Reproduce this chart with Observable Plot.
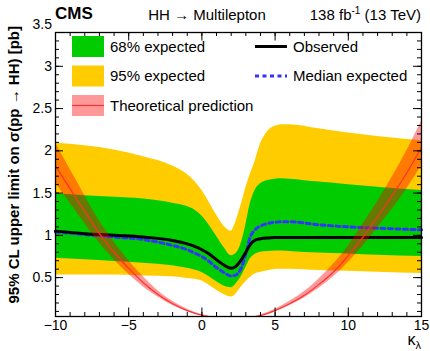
<!DOCTYPE html>
<html><head><meta charset="utf-8">
<script src="https://cdn.jsdelivr.net/npm/d3@7"></script>
<script src="https://cdn.jsdelivr.net/npm/@observablehq/plot@0.6"></script>
<style>
body{margin:0;background:#fff}
#chart{position:relative;width:430px;height:351px}
svg text{font-family:"Liberation Sans",Arial,sans-serif}
</style>
</head><body><div id="chart"></div>
<script>
// ---- data ----
const kGrid = [-10,-8,-6,-4,-2,-1,-0.5,0,0.5,1,1.5,2,2.3,2.65,3,3.3,3.6,4,4.5,5,5.5,6,8,10,12,15];
const y95hi = [2.09,2.06,2.01,1.93,1.82,1.72,1.64,1.53,1.39,1.24,1.11,1.05,1.15,1.34,1.56,1.72,1.86,2.08,2.23,2.29,2.31,2.31,2.26,2.21,2.17,2.12];
const y68hi = [1.49,1.47,1.45,1.43,1.38,1.34,1.30,1.23,1.12,0.99,0.86,0.76,0.78,0.89,1.12,1.37,1.52,1.61,1.65,1.665,1.67,1.665,1.63,1.60,1.57,1.53];
const y68lo = [0.73,0.71,0.69,0.67,0.64,0.61,0.59,0.56,0.51,0.45,0.40,0.38,0.42,0.50,0.62,0.72,0.77,0.80,0.81,0.815,0.815,0.81,0.79,0.78,0.765,0.75];
const y95lo = [0.53,0.53,0.53,0.52,0.51,0.49,0.48,0.46,0.41,0.35,0.30,0.27,0.30,0.38,0.45,0.50,0.54,0.56,0.58,0.595,0.60,0.60,0.585,0.575,0.565,0.55];
const observed = [1.05,1.02,1.00,0.98,0.94,0.90,0.87,0.83,0.78,0.71,0.65,0.61,0.63,0.70,0.80,0.89,0.94,0.96,0.97,0.975,0.975,0.975,0.975,0.975,0.975,0.975];
const median = [1.04,1.01,0.98,0.95,0.88,0.83,0.79,0.75,0.69,0.62,0.56,0.52,0.53,0.60,0.78,0.98,1.06,1.11,1.14,1.155,1.16,1.16,1.125,1.10,1.085,1.065];

const thK  = [-10,-9,-8,-7,-6,-5,-4,-3,-2,-1,0,1,2,3,4,5,6,7,8,9,10,11,12,13,14,15];
const thC  = [1.82,1.55,1.28,1.02,0.80,0.61,0.44,0.30,0.19,0.11,0.055,0.025,0.015,0.02,0.05,0.11,0.19,0.29,0.42,0.57,0.76,0.98,1.22,1.47,1.74,2.04];
const thHi = [2.09,1.78,1.47,1.17,0.92,0.70,0.51,0.345,0.22,0.127,0.063,0.029,0.017,0.023,0.058,0.127,0.22,0.335,0.485,0.66,0.875,1.13,1.40,1.69,2.00,2.35];
const thLo = [1.62,1.38,1.14,0.91,0.71,0.54,0.39,0.27,0.17,0.098,0.049,0.022,0.013,0.018,0.045,0.098,0.17,0.26,0.375,0.51,0.68,0.87,1.09,1.31,1.55,1.82];

const xMajor = [-10,-5,0,5,10,15];
const xMinor = d3.range(-10, 15.01, 1);
const yMajor = [0.5,1,1.5,2,2.5,3];
const yMinor = d3.range(0.1, 3.41, 0.1);
const yLabels = [0.5,1,1.5,2,2.5,3,3.5];

const legendLeft = [
  {label:"68% expected", kind:"green"},
  {label:"95% expected", kind:"yellow"},
  {label:"Theoretical prediction", kind:"theory"}
];
const legendRight = [
  {label:"Observed", kind:"obs"},
  {label:"Median expected", kind:"med"}
];

// ---- build ----
const W = 430, H = 351, mt = 32, mb = 35, ml = 55, mr = 9;
const fH = H - mt - mb, fW = W - ml - mr;
const rows = kGrid.map((k,i)=>({k, y95hi:y95hi[i], y68hi:y68hi[i], y68lo:y68lo[i], y95lo:y95lo[i], obs:observed[i], med:median[i]}));
const th = thK.map((k,i)=>({k, c:thC[i], hi:thHi[i], lo:thLo[i]}));

const GREEN = "#00cc00", YELLOW = "#ffcc00", BLUE = "#3333ff";
const fmt = d => (d < 0 ? "\u2212" : "") + String(Math.abs(d));

const plot = Plot.plot({
  width: W, height: H, marginTop: mt, marginBottom: mb, marginLeft: ml, marginRight: mr,
  style: {fontFamily: '"Liberation Sans", Arial, sans-serif', fontSize: "14px", background: "white", color: "black", overflow: "visible"},
  x: {domain: [-10, 15]},
  y: {domain: [0.04, 3.4]},
  marks: [
    Plot.areaY(rows, {x:"k", y1:"y95lo", y2:"y95hi", fill:YELLOW, curve:"monotone-x"}),
    Plot.areaY(rows, {x:"k", y1:"y68lo", y2:"y68hi", fill:GREEN, curve:"monotone-x"}),
    Plot.line(rows, {x:"k", y:"med", stroke:BLUE, strokeWidth:3, strokeDasharray:"4,3.5", curve:"monotone-x"}),
    Plot.line(rows, {x:"k", y:"obs", stroke:"black", strokeWidth:3, curve:"monotone-x"}),
    Plot.areaY(th, {x:"k", y1:"lo", y2:"hi", fill:"#ff0000", fillOpacity:0.4, curve:"natural", clip:true}),
    Plot.line(th, {x:"k", y:"c", stroke:"#ff3030", strokeWidth:1.2, curve:"natural", clip:true}),
    // inward ticks on all four sides
    Plot.tickX(xMinor, {x:d=>d, insetTop: fH-4}),
    Plot.tickX(xMinor, {x:d=>d, insetBottom: fH-4}),
    Plot.tickX(xMajor, {x:d=>d, insetTop: fH-8.5}),
    Plot.tickX(xMajor, {x:d=>d, insetBottom: fH-8.5}),
    Plot.tickY(yMinor, {y:d=>d, insetRight: fW-4}),
    Plot.tickY(yMinor, {y:d=>d, insetLeft: fW-4}),
    Plot.tickY(yMajor, {y:d=>d, insetRight: fW-8}),
    Plot.tickY(yMajor, {y:d=>d, insetLeft: fW-8}),
    Plot.frame({stroke:"black", strokeWidth:1.3}),
    Plot.axisX(xMajor, {tickSize:0, tickPadding:4, label:null, fontSize:14, tickFormat: fmt}),
    Plot.axisY(yLabels, {tickSize:0, tickPadding:3.5, label:null, fontSize:14, tickFormat: fmt})
  ]
});
document.getElementById("chart").appendChild(plot);

// ---- texts & legend ----
const svg = d3.select(plot);
const g = svg.append("g").attr("fill","black").attr("text-anchor","start");
g.append("text").attr("x",55).attr("y",19).attr("font-size",17).attr("font-weight","bold").attr("text-anchor","start").text("CMS");
g.append("text").attr("x",207).attr("y",19.5).attr("font-size",15).attr("text-anchor","middle").text("HH → Multilepton");
const lumi = g.append("text").attr("x",421).attr("y",19.5).attr("font-size",15).attr("text-anchor","end");
lumi.append("tspan").text("138 fb");
lumi.append("tspan").attr("font-size",10).attr("dy",-6).text("-1");
lumi.append("tspan").attr("dy",6).text(" (13 TeV)");

g.append("text").attr("transform","translate(19,26) rotate(-90)").attr("text-anchor","end")
  .attr("font-size",15).attr("font-weight","bold").text("95% CL upper limit on σ(pp → HH) [pb]");

const kl = g.append("text").attr("x",421).attr("y",345).attr("font-size",16).attr("text-anchor","end");
kl.append("tspan").text("κ");
kl.append("tspan").attr("font-size",11).attr("dy",4).text("λ");

// legend
const L = svg.append("g").attr("font-size",15).attr("text-anchor","start");
legendLeft.forEach((d,i)=>{
  const y = 36 + i*29.5;
  if (d.kind === "theory") {
    L.append("rect").attr("x",72).attr("y",y).attr("width",32).attr("height",21).attr("fill","#ff0000").attr("fill-opacity",0.4);
    L.append("line").attr("x1",72).attr("x2",104).attr("y1",y+10.5).attr("y2",y+10.5).attr("stroke","#ff3030").attr("stroke-width",1.2);
  } else {
    L.append("rect").attr("x",72).attr("y",y).attr("width",32).attr("height",21).attr("fill", d.kind==="green"?GREEN:YELLOW);
  }
  L.append("text").attr("x",110).attr("y",y+10.5).attr("dy","0.35em").attr("text-anchor","start").text(d.label);
});
legendRight.forEach((d,i)=>{
  const y = 46.5 + i*29.5;
  L.append("line").attr("x1",255).attr("x2",287).attr("y1",y).attr("y2",y)
    .attr("stroke", d.kind==="obs"?"black":BLUE).attr("stroke-width",3)
    .attr("stroke-dasharray", d.kind==="obs"?null:"4,3.5");
  L.append("text").attr("x",293).attr("y",y).attr("dy","0.35em").attr("text-anchor","start").text(d.label);
});
</script>
</body></html>
